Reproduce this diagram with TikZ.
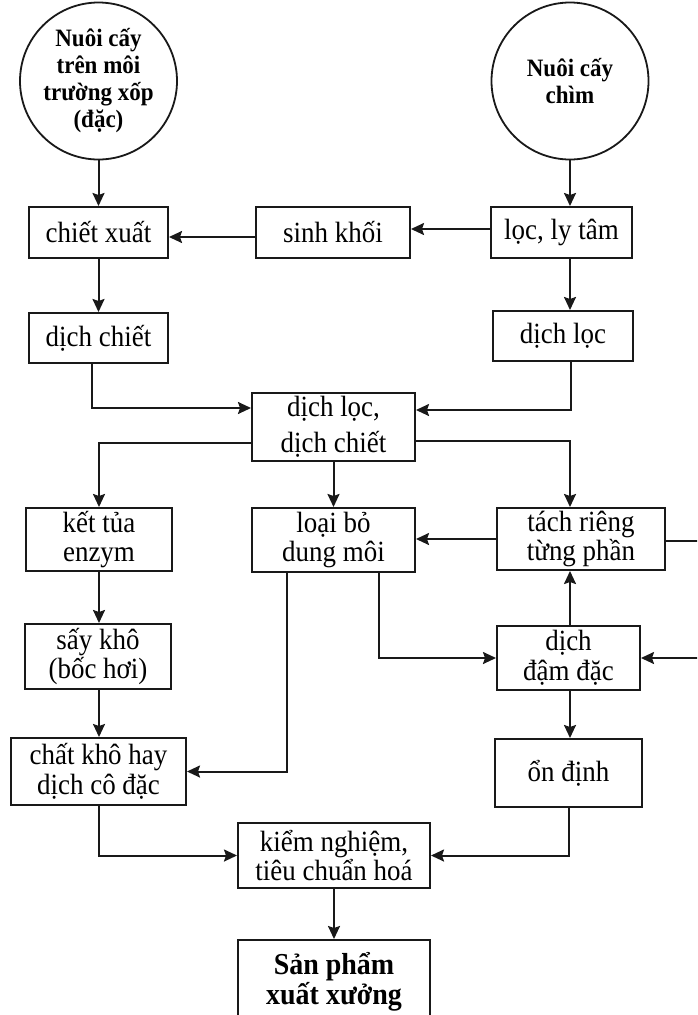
\documentclass[tikz,border=0pt]{standalone}
\usepackage{fontspec}
\setmainfont{Liberation Serif}[FakeStretch=0.92]
\usetikzlibrary{arrows.meta,calc}
\begin{document}
\begin{tikzpicture}[x=1pt,y=-1pt,
  box/.style={draw=black!90, line width=2pt, rectangle, inner sep=0pt, align=center, font=\fontsize{29.3}{29.5}\selectfont},
  circ/.style={draw=black!90, line width=1.8pt, circle, inner sep=0pt, align=center, minimum size=157pt, font=\bfseries\fontsize{25}{27}\selectfont},
  arr/.style={draw=black!90, line width=2pt, -{Stealth[length=13pt,width=12pt,inset=2pt]}},
  ln/.style={draw=black!90, line width=2pt}]
\useasboundingbox (0,0) rectangle (697,1015);
\clip (0,0) rectangle (697,1015);
\fill[white] (0,0) rectangle (697,1015);

% circles
\node[circ] (c1) at (98.5,81) {Nuôi cấy\\trên môi\\trường xốp\\(đặc)};
\node[circ] (c2) at (570,81) {Nuôi cấy\\chìm};

% row 1
\node[box, minimum width=139pt, minimum height=51pt] (cx) at (98.5,232.5) {chiết xuất};
\node[box, minimum width=154pt, minimum height=51pt] (sk) at (333,232.5) {sinh khối};
\node[box, minimum width=141pt, minimum height=51pt] (ll) at (561.5,232.5) {lọc, ly tâm};

% row 2
\node[box, minimum width=139pt, minimum height=50pt] (dc) at (98.5,338) {dịch chiết};
\node[box, minimum width=140pt, minimum height=50pt] (dl) at (563,336) {dịch lọc};

% middle
\node[box, minimum width=163pt, minimum height=68pt, font=\fontsize{29.3}{36}\selectfont] (mid) at (333.5,427) {dịch lọc,\\dịch chiết};

% row 3
\node[box, minimum width=146pt, minimum height=63pt] (kt) at (99,539.5) {kết tủa\\enzym};
\node[box, minimum width=163pt, minimum height=64pt] (lb) at (333.5,540) {loại bỏ\\dung môi};
\node[box, minimum width=168pt, minimum height=62pt] (tr) at (581,539) {tách riêng\\từng phần};

% row 4
\node[box, minimum width=146pt, minimum height=65pt] (sy) at (98,656.5) {sấy khô\\(bốc hơi)};
\node[box, minimum width=143pt, minimum height=64pt] (dd) at (568.5,658) {dịch\\đậm đặc};

% row 5
\node[box, minimum width=175pt, minimum height=67pt] (ck) at (98.5,771.5) {chất khô hay\\dịch cô đặc};
\node[box, minimum width=147pt, minimum height=68pt] (od) at (568.5,773) {ổn định};

% bottom
\node[box, minimum width=192pt, minimum height=65pt] (kn) at (334,855.5) {kiểm nghiệm,\\tiêu chuẩn hoá};
\node[box, minimum width=192pt, minimum height=84pt, font=\bfseries\fontsize{30.4}{30}\selectfont] (sp) at (334,982) {Sản phẩm\\xuất xưởng};

% free ends at the right edge
\coordinate (e1) at (705,541);
\coordinate (e2) at (705,658);

% connectors
\draw[arr] (c1.south) -- (c1.south |- cx.north);
\draw[arr] (c2.south) -- (c2.south |- ll.north);
\draw[arr] ($(ll.west)+(0,-3.5)$) -- ($(sk.east)+(0,-3.5)$);
\draw[arr] ($(sk.west)+(0,4.5)$) -- ($(cx.east)+(0,4.5)$);
\draw[arr] (cx.south) -- (dc.north);
\draw[arr] (c2 |- ll.south) -- (c2 |- dl.north);
\draw[arr] ($(dc.south)+(-6.5,0)$) |- ($(mid.west)+(0,-19)$);
\draw[arr] ($(dl.south)+(8,0)$) |- ($(mid.east)+(0,-17)$);
\draw[arr] ($(mid.west)+(0,16)$) -| (kt.north);
\draw[arr] (mid.south) -- (lb.north);
\draw[arr] ($(mid.east)+(0,14)$) -| (c2 |- tr.north);
\draw[arr] (tr.west) -- (tr.west -| lb.east);
\draw[ln] (tr.east |- e1) -- (e1);
\draw[arr] (c2 |- dd.north) -- (c2 |- tr.south);
\draw[arr] (e2) -- (dd.east);
\draw[arr] ($(lb.south)+(45.5,0)$) |- (dd.west);
\draw[arr] ($(lb.south)+(-46.5,0)$) |- (ck.east);
\draw[arr] (kt.south) -- (kt.south |- sy.north);
\draw[arr] (kt.south |- sy.south) -- (kt.south |- ck.north);
\draw[arr] (c2 |- dd.south) -- (c2 |- od.north);
\draw[arr] (ck.south) |- (kn.west);
\draw[arr] (od.south) |- (kn.east);
\draw[arr] (kn.south) -- (sp.north);
\end{tikzpicture}
\end{document}
